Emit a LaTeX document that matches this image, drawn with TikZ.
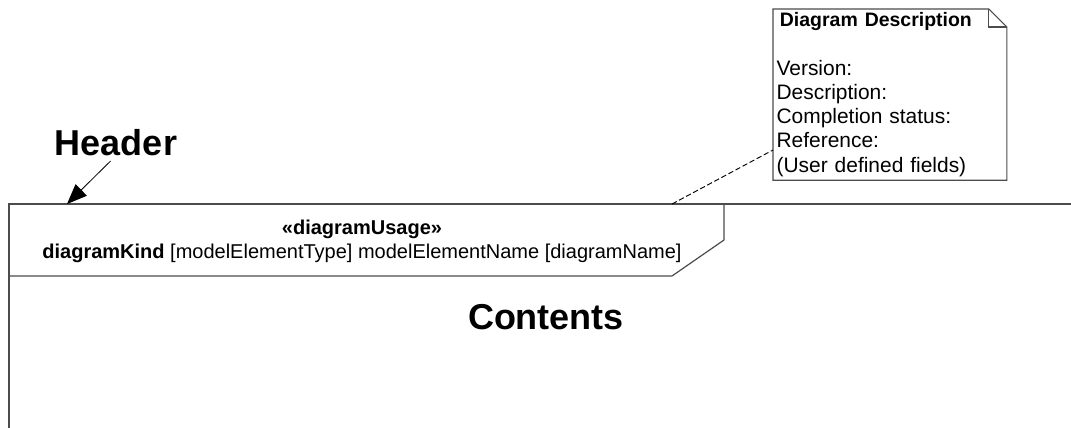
\documentclass[tikz,border=0pt]{standalone}
\usepackage{fontspec}
\setmainfont{Liberation Sans}
\usetikzlibrary{positioning,arrows.meta}

\tikzset{
  frameline/.style={line width=0.9pt, draw=black!70},
  bigtitle/.style={font=\bfseries\fontsize{27}{30}\selectfont},
  smalltext/.style={font=\fontsize{15}{18}\selectfont},
  notetext/.style={font=\fontsize{15.7}{18.2}\selectfont},
}

\begin{document}
\begin{tikzpicture}[x=0.75pt, y=-0.75pt, >={Triangle[length=15pt,width=12pt]}]
  \useasboundingbox (0,0) rectangle (1071,428);
  % frame: top rule, left side and the header pentagon
  \draw[frameline] (1071,204) -- (9,204) -- (9,428);
  \draw[frameline] (9,276) -- (672,276) -- (724,240) -- (724,204);
  \node[smalltext, align=center] (hdr) at (362,241)
    {\textbf{«diagramUsage»}\\\textbf{diagramKind} [modelElementType] modelElementName [diagramName]};
  \node[bigtitle] (hlabel) at (116,143) {Header};
  \node[bigtitle] (contents) at (546,317) {Contents};
  % note with folded corner
  \node[notetext, align=left, anchor=north west, minimum width=175pt, minimum height=128pt,
        text width=170pt, inner xsep=1.8pt, inner ysep=2.5pt] (note) at (773,9)
    {{\bfseries\fontsize{14.6}{18}\selectfont\hspace{2.5pt}Diagram Description}\\[18pt]Version:\\Description:\\Completion status:\\Reference:\\(User defined fields)};
  \draw[frameline] (note.north west) -- ([xshift=-13.5pt]note.north east) -- ([yshift=-13.5pt]note.north east)
    -- (note.south east) -- (note.south west) -- cycle;
  \draw[frameline] ([xshift=-13.5pt]note.north east) |- ([yshift=-13.5pt]note.north east);
  % connectors
  \coordinate (hdrtip) at (67,204);
  \coordinate (notefoot) at (672,204);
  \draw[->, line width=0.6pt] ([xshift=-4pt]hlabel.south) -- (hdrtip);
  \draw[dashed, line width=0.7pt, dash pattern=on 4pt off 2pt] (notefoot) -- (note.west |- 0,150);
\end{tikzpicture}
\end{document}
